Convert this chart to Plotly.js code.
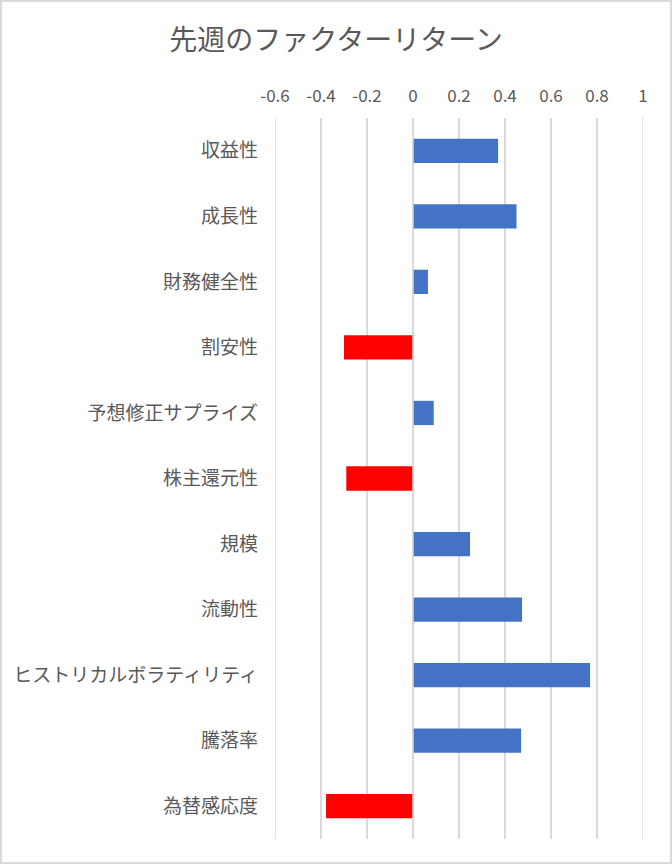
<!DOCTYPE html>
<html>
<head>
<meta charset="utf-8">
<script src="https://cdn.plot.ly/plotly-3.0.1.min.js"></script>
<style>
  body { margin: 0; }
  #wrap { position: relative; width: 672px; height: 864px; }
  #chart { width: 672px; height: 864px; }
  #frame { position: absolute; left: 0; top: 0; width: 672px; height: 864px;
           box-sizing: border-box; border: 2px solid #d9d9d9; pointer-events: none; }
</style>
</head>
<body>
<div id="wrap">
  <div id="chart"></div>
  <div id="frame"></div>
</div>
<script>
// factor names, top to bottom
var factors = ['収益性', '成長性', '財務健全性', '割安性', '予想修正サプライズ',
  '株主還元性', '規模', '流動性', 'ヒストリカルボラティリティ', '騰落率', '為替感応度'];
// last week's returns
var returns = [0.37, 0.45, 0.065, -0.30, 0.09, -0.29, 0.248, 0.474, 0.77, 0.47, -0.378];
var xTicks = [-0.6, -0.4, -0.2, 0, 0.2, 0.4, 0.6, 0.8, 1];
var xTickText = ['-0.6', '-0.4', '-0.2', '0', '0.2', '0.4', '0.6', '0.8', '1'];

// Excel "invert if negative" look
var colors = returns.map(function (v) { return v < 0 ? '#ff0000' : '#4472c4'; });

var trace = {
  type: 'bar',
  orientation: 'h',
  y: factors,
  x: returns,
  marker: { color: colors },
  hoverinfo: 'x+y'
};

var gridLine = { color: '#d9d9d9', width: 1.5 };

// edge gridlines + zero line drawn over the bars, like in Excel
var edgeShapes = [-0.6, 0, 1].map(function (v) {
  return {
    type: 'line', layer: v === 0 ? 'above' : 'below',
    xref: 'x', yref: 'paper',
    x0: v, x1: v, y0: 0, y1: 1,
    line: gridLine
  };
});

var layout = {
  width: 672,
  height: 864,
  margin: { l: 275, r: 29, t: 118, b: 25 },
  paper_bgcolor: '#ffffff',
  plot_bgcolor: '#ffffff',
  font: { family: '"Noto Sans CJK JP", "Noto Sans", sans-serif', color: '#595959' },
  title: {
    text: '先週のファクターリターン',
    font: { size: 28, color: '#595959' },
    x: 0.5, xanchor: 'center',
    y: 0.953, yanchor: 'middle'
  },
  bargap: 0.63,
  showlegend: false,
  xaxis: {
    side: 'top',
    range: [-0.6, 1],
    tickvals: xTicks,
    ticktext: xTickText,
    showgrid: true,
    gridcolor: gridLine.color,
    gridwidth: gridLine.width,
    zeroline: false,
    showline: false,
    ticks: '',
    ticklabelstandoff: 12,
    tickfont: { size: 17, color: '#595959' },
    fixedrange: true
  },
  yaxis: {
    autorange: 'reversed',
    showgrid: false,
    zeroline: false,
    showline: false,
    ticks: '',
    ticklabelstandoff: 16,
    tickfont: { size: 19, color: '#595959' },
    fixedrange: true
  },
  shapes: edgeShapes
};

Plotly.newPlot('chart', [trace], layout, { displayModeBar: false, staticPlot: true });
</script>
</body>
</html>
